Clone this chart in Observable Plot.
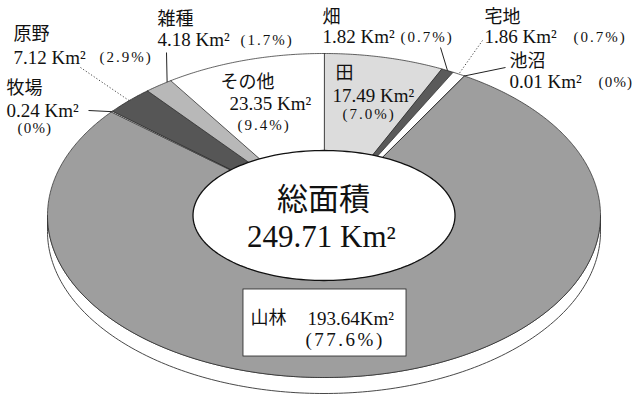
<!DOCTYPE html>
<html>
<head>
<meta charset="utf-8">
<script src="https://cdn.jsdelivr.net/npm/d3@7"></script>
<script src="https://cdn.jsdelivr.net/npm/@observablehq/plot@0.6"></script>
<style>
  html, body { margin: 0; padding: 0; background: #fff; }
  #chart svg { display: block; }
</style>
</head>
<body>
<div id="chart"></div>
<script>
// ---- data ----
const categories = ["田", "畑", "宅地", "池沼", "山林", "牧場", "原野", "雑種", "その他"];
const areas      = [17.49, 1.82, 1.86, 0.01, 193.64, 0.24, 7.12, 4.18, 23.35];
const percents   = ["7.0", "0.7", "0.7", "0", "77.6", "0", "2.9", "1.7", "9.4"];
const totalTitle = "総面積";
const totalArea  = 249.71;
const unit = "Km²";

// ---- styles ----
const fills = {"田": "#dcdcdc", "畑": "#5a5a5a", "宅地": "#ffffff", "池沼": "#ffffff", "山林": "#9e9e9e",
               "牧場": "#ffffff", "原野": "#565656", "雑種": "#b8b8b8", "その他": "#ffffff"};

// ---- geometry / layout (pixels) ----
const W = 634, H = 405;
const CX = 323.5, CY = 215, RX = 276.5, RY = 162, DEPTH = 16;
const HOLE_RX = 131, HOLE_RY = 65;
const px = v => (v - CX) / RX;
const py = v => (CY - v) / RY;

// label layout: name line, value line, percent (pixel anchors, start-aligned)
const labelLayout = {
  "田":    {name: [335, 73],  value: [332, 95],  pct: [342, 114]},
  "その他": {name: [220, 82],  value: [229, 103], pct: [237, 125]},
  "雑種":  {name: [157, 19],  value: [157, 39],  pct: [240, 40], lead: [[166, 52]], leadFrac: 0.85},
  "原野":  {name: [13, 34],   value: [13, 57],   pct: [99, 57],  lead: [[80, 67]], dotted: true},
  "牧場":  {name: [6, 88],    value: [6, 110],   pct: [17, 128], lead: [[88, 110]]},
  "畑":    {name: [322, 17],  value: [322, 36],  pct: [400, 37], lead: [[440, 47]]},
  "宅地":  {name: [484, 17],  value: [484, 36],  pct: [573, 37], lead: [[482, 40]], dotted: true},
  "池沼":  {name: [509, 61],  value: [509, 81],  pct: [598, 82], lead: [[505, 67]]}
};
const forestBox = {x1: 243, x2: 406, y1: 289, y2: 356, name: [250, 318], value: [307, 318], pct: [305, 339]};

// ---- build slices ----
const data = categories.map((c, i) => ({cat: c, area: areas[i], pct: percents[i]}));
const arcs = d3.pie().sort(null).value(d => d.area).startAngle(0).endAngle(2 * Math.PI)(data);

function slicePoly(a) {
  const pts = [{x: 0, y: 0}];
  const n = Math.max(2, Math.ceil((a.endAngle - a.startAngle) / (Math.PI / 360)));
  for (let k = 0; k <= n; k++) {
    const t = a.startAngle + (a.endAngle - a.startAngle) * k / n;
    pts.push({x: Math.sin(t), y: Math.cos(t)});
  }
  return pts;
}

// side (depth) of the tilted disc
const side = [];
for (let k = 0; k <= 180; k++) { const t = Math.PI / 2 + Math.PI * k / 180; side.push({x: Math.sin(t), y: Math.cos(t)}); }
for (let k = 180; k >= 0; k--) { const t = Math.PI / 2 + Math.PI * k / 180; side.push({x: Math.sin(t), y: Math.cos(t) - DEPTH / RY}); }

// centre hole
const hole = d3.range(0, 361, 2).map(d => {
  const t = d * Math.PI / 180;
  return {x: Math.sin(t) * HOLE_RX / RX, y: Math.cos(t) * HOLE_RY / RY};
});

// ---- texts ----
const FONT = "'Liberation Serif', 'DejaVu Serif', 'Noto Sans CJK JP', serif";
const nameTexts = [], valTexts = [], pctTexts = [], leads = [];
arcs.forEach(a => {
  const L = labelLayout[a.data.cat];
  if (!L) return;
  nameTexts.push({x: px(L.name[0]), y: py(L.name[1]), t: a.data.cat});
  valTexts.push({x: px(L.value[0]), y: py(L.value[1]), t: `${a.data.area.toFixed(2)} ${unit}`});
  pctTexts.push({x: px(L.pct[0]), y: py(L.pct[1]), t: `(${a.data.pct}%)`});
  if (L.lead) {
    const f = L.leadFrac ?? 0.5;
    const ang = a.startAngle + (a.endAngle - a.startAngle) * f;
    leads.push({x1: px(L.lead[0][0]), y1: py(L.lead[0][1]), x2: Math.sin(ang), y2: Math.cos(ang), dotted: !!L.dotted});
  }
});
const forest = data.find(d => d.cat === "山林");

const sliceMarks = arcs.map(a => Plot.line(slicePoly(a), {
  x: "x", y: "y", curve: "linear-closed",
  fill: fills[a.data.cat], stroke: "#222", strokeWidth: 0.7
}));

const chart = Plot.plot({
  width: W, height: H,
  margin: 0,
  x: {domain: [-1, 1], range: [CX - RX, CX + RX], axis: null},
  y: {domain: [-1, 1], range: [CY + RY, CY - RY], axis: null},
  style: {background: "#fff", color: "#111"},
  marks: [
    Plot.line(side, {x: "x", y: "y", curve: "linear-closed", fill: "#fff", stroke: "#333", strokeWidth: 0.9}),
    ...sliceMarks,
    Plot.line(hole, {x: "x", y: "y", curve: "linear-closed", fill: "#fff", stroke: "#111", strokeWidth: 1.3}),
    Plot.link(leads.filter(d => !d.dotted), {x1: "x1", y1: "y1", x2: "x2", y2: "y2", stroke: "#222", strokeWidth: 1}),
    Plot.link(leads.filter(d => d.dotted), {x1: "x1", y1: "y1", x2: "x2", y2: "y2", stroke: "#444", strokeWidth: 1, strokeDasharray: "1.2,2"}),
    Plot.text(nameTexts, {x: "x", y: "y", text: "t", textAnchor: "start", fontSize: 18, fontFamily: FONT, fill: "#111"}),
    Plot.text(valTexts, {x: "x", y: "y", text: "t", textAnchor: "start", fontSize: 19, fontFamily: FONT, fill: "#111"}),
    Plot.text(pctTexts, {x: "x", y: "y", text: "t", textAnchor: "start", fontSize: 15, fontFamily: FONT, fill: "#111"}),
    Plot.text([totalTitle], {x: px(323), y: py(200), text: d => d, fontSize: 31, fontFamily: FONT, fill: "#111"}),
    Plot.text([totalArea], {x: px(321), y: py(237), text: d => `${d.toFixed(2)} ${unit}`, fontSize: 31, fontFamily: FONT, fill: "#111"}),
    Plot.rect([forest], {x1: px(forestBox.x1), x2: px(forestBox.x2), y1: py(forestBox.y1), y2: py(forestBox.y2), fill: "#fff", stroke: "#222", strokeWidth: 0.8}),
    Plot.text([forest], {x: px(forestBox.name[0]), y: py(forestBox.name[1]), text: d => d.cat, textAnchor: "start", fontSize: 18, fontFamily: FONT, fill: "#111"}),
    Plot.text([forest], {x: px(forestBox.value[0]), y: py(forestBox.value[1]), text: d => `${d.area.toFixed(2)}${unit}`, textAnchor: "start", fontSize: 19, fontFamily: FONT, fill: "#111"}),
    Plot.text([forest], {x: px(forestBox.pct[0]), y: py(forestBox.pct[1]), text: d => `(${d.pct}%)`, textAnchor: "start", fontSize: 19, fontFamily: FONT, fill: "#111"})
  ]
});
// widen the percentage labels the way the printed figure spaces them
d3.select(chart).selectAll("text").each(function () {
  const s = this.textContent;
  if (/^\(.*%\)$/.test(s)) {
    const fs = +(this.getAttribute("font-size") || (this.parentNode && this.parentNode.getAttribute("font-size")) || 15);
    this.style.letterSpacing = fs > 16 ? "2.5px" : (s === "(0%)" ? "1.2px" : "2px");
  }
});
document.getElementById("chart").appendChild(chart);
</script>
</body>
</html>
